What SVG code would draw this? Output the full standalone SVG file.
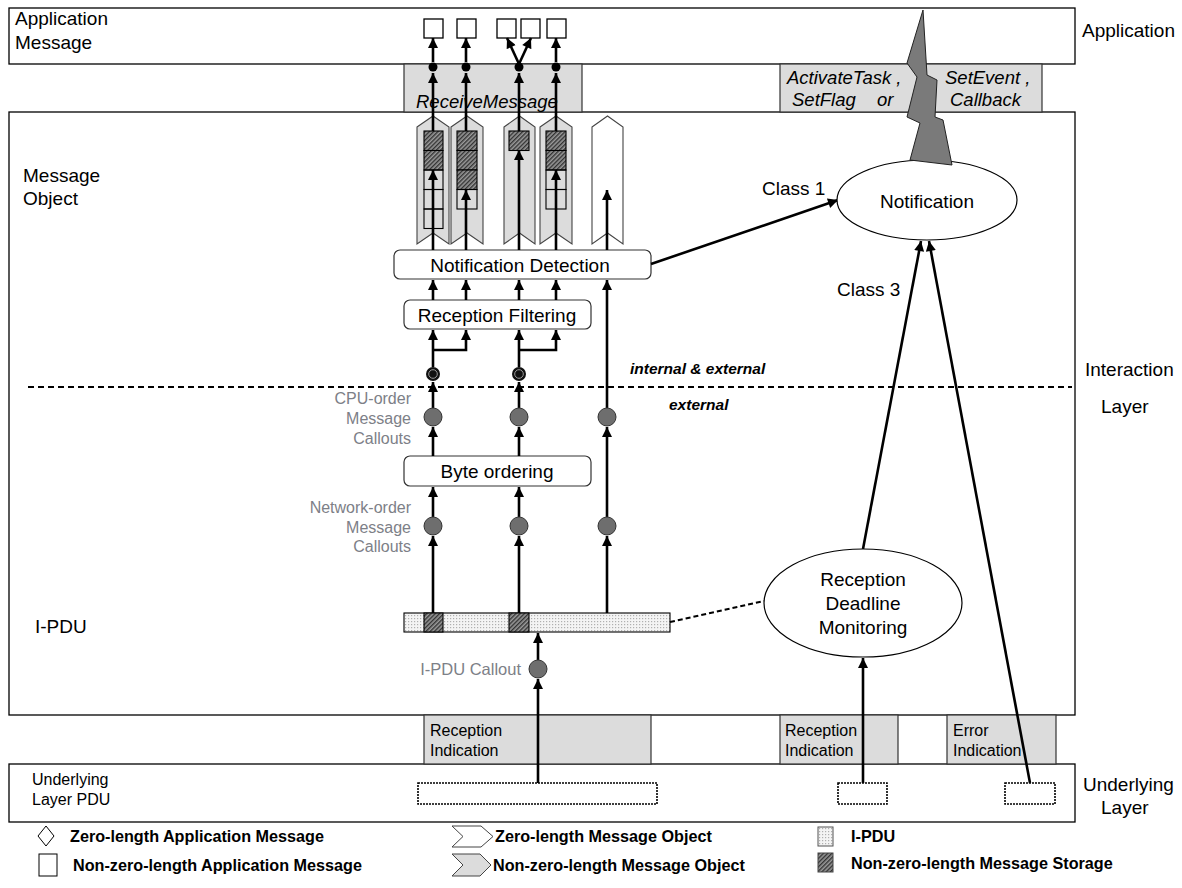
<svg xmlns="http://www.w3.org/2000/svg" width="1182" height="888" viewBox="0 0 1182 888">
<defs>
<style>
text{font-family:"Liberation Sans",Arial,sans-serif;fill:#000}
.t19{font-size:19px}
.t16{font-size:16px}
.it{font-style:italic;font-size:18.5px}
.gr{font-size:16px;fill:#7d8087}
.bi{font-size:15.5px;font-weight:bold;font-style:italic}
.lg{font-size:16.2px;font-weight:bold}
.box{fill:#fff;stroke:#000;stroke-width:1.3}
.band{fill:#dcdcdc;stroke:#333;stroke-width:1.2}
.rbox{fill:#fff;stroke:#333;stroke-width:1.2}
.chev{fill:#dcdcdc;stroke:#444;stroke-width:1.1}
.chevw{fill:#fff;stroke:#444;stroke-width:1.1}
.cell{fill:none;stroke:#000;stroke-width:1.1}
.hat{fill:url(#hatch);stroke:#000;stroke-width:1.1}
.ell{fill:#fff;stroke:#000;stroke-width:1.2}
.ar{fill:none;stroke:#000;stroke-width:2.6;marker-end:url(#ah)}
.gc{fill:#6e6e6e;stroke:#333;stroke-width:1}
.pdu{fill:#fff;stroke:#000;stroke-width:1.6;stroke-dasharray:2,1}
</style>
<marker id="ah" viewBox="0 0 10 10" refX="10" refY="5" markerWidth="11" markerHeight="10" markerUnits="userSpaceOnUse" orient="auto">
<path d="M0,0 L10,5 L0,10 z" fill="#000"/>
</marker>
<pattern id="hatch" width="3" height="3" patternUnits="userSpaceOnUse" patternTransform="rotate(45)">
<rect width="3" height="3" fill="#9a9a9a"/>
<rect width="1.4" height="3" fill="#333"/>
</pattern>
<pattern id="dots" width="3" height="3" patternUnits="userSpaceOnUse">
<rect width="3" height="3" fill="#f4f4f4"/>
<rect width="1.2" height="1.2" fill="#b0b0b0"/>
</pattern>
</defs>

<g id="layers">
<rect class="box" x="9" y="8" width="1066" height="56"/>
<rect class="box" x="9" y="112" width="1066" height="603"/>
<rect class="box" x="9" y="764" width="1066" height="58"/>
<rect class="band" x="404" y="64" width="178" height="48"/>
<rect class="band" x="780" y="64" width="262" height="48"/>
<rect class="band" x="424" y="715" width="227" height="49"/>
<rect class="band" x="780" y="715" width="118" height="49"/>
<rect class="band" x="947" y="715" width="109" height="49"/>
<text class="t19" x="15" y="25">Application</text>
<text class="t19" x="15" y="49">Message</text>
<text class="t19" x="23" y="182">Message</text>
<text class="t19" x="23" y="205">Object</text>
<text class="t19" x="35" y="633">I-PDU</text>
<text class="t16" x="32" y="785">Underlying</text>
<text class="t16" x="32" y="805">Layer PDU</text>
<text class="t19" x="1082" y="37">Application</text>
<text class="t19" x="1085" y="376">Interaction</text>
<text class="t19" x="1101" y="413">Layer</text>
<text class="t19" x="1083" y="791">Underlying</text>
<text class="t19" x="1101" y="814">Layer</text>
<text class="t16" x="430" y="736">Reception</text>
<text class="t16" x="430" y="756">Indication</text>
<text class="t16" x="785" y="736">Reception</text>
<text class="t16" x="785" y="756">Indication</text>
<text class="t16" x="953" y="736">Error</text>
<text class="t16" x="953" y="756">Indication</text>
<line x1="28" y1="387" x2="1072" y2="387" stroke="#000" stroke-width="2" stroke-dasharray="6,4"/>
<text class="bi" x="630" y="374">internal &amp; external</text>
<text class="bi" x="669" y="410">external</text>
</g>

<g id="app-messages">
<rect class="box" x="424" y="19" width="19" height="19"/>
<rect class="box" x="457" y="19" width="19" height="19"/>
<rect class="box" x="497" y="19" width="19" height="19"/>
<rect class="box" x="521" y="19" width="19" height="19"/>
<rect class="box" x="547" y="19" width="19" height="19"/>
</g>

<g id="message-objects">
<polygon class="chev" points="417,127 433,116 449,127 449,244 433,233 417,244"/>
<polygon class="chev" points="451,127 467,116 483,127 483,244 467,233 451,244"/>
<polygon class="chev" points="504,127 519.5,116 535,127 535,244 519.5,233 504,244"/>
<polygon class="chev" points="540,127 556,116 572,127 572,244 556,233 540,244"/>
<polygon class="chevw" points="592,127 607.5,116 623,127 623,244 607.5,233 592,244"/>
<rect class="hat" x="424" y="131" width="19" height="19.5"/>
<rect class="hat" x="424" y="150.5" width="19" height="19.5"/>
<rect class="cell" x="424" y="170" width="19" height="19.5"/>
<rect class="cell" x="424" y="189.5" width="19" height="19.5"/>
<rect class="cell" x="424" y="209" width="19" height="19.5"/>
<rect class="hat" x="457" y="131" width="20" height="19.5"/>
<rect class="hat" x="457" y="150.5" width="20" height="19.5"/>
<rect class="hat" x="457" y="170" width="20" height="19.5"/>
<rect class="cell" x="457" y="189.5" width="20" height="19.5"/>
<rect class="hat" x="509" y="131" width="20" height="19.5"/>
<rect class="hat" x="546" y="131" width="20" height="19.5"/>
<rect class="hat" x="546" y="150.5" width="20" height="19.5"/>
<rect class="cell" x="546" y="170" width="20" height="19.5"/>
<rect class="cell" x="546" y="189.5" width="20" height="19.5"/>
</g>

<g id="band-texts">
<text class="it" x="416" y="108">ReceiveMessage</text>
<text class="it" x="787" y="84">ActivateTask ,</text>
<text class="it" x="792" y="106">SetFlag<tspan x="877">or</tspan></text>
<text class="it" x="945" y="84">SetEvent ,</text>
<text class="it" x="950" y="106">Callback</text>
</g>

<g id="notification-detection">
<rect class="rbox" x="394" y="250" width="257" height="29" rx="6"/>
<text class="t19" x="520" y="272" text-anchor="middle">Notification Detection</text>
</g>
<g id="reception-filtering">
<rect class="rbox" x="404" y="300" width="187" height="29" rx="6"/>
<text class="t19" x="497" y="322" text-anchor="middle">Reception Filtering</text>
</g>
<g id="byte-ordering">
<rect class="rbox" x="404" y="456" width="187" height="30" rx="6"/>
<text class="t19" x="497" y="478" text-anchor="middle">Byte ordering</text>
</g>
<g id="ipdu">
<rect x="404" y="613" width="266" height="19" fill="url(#dots)" stroke="#000" stroke-width="1.1"/>
<rect class="hat" x="424" y="613" width="19" height="19"/>
<rect class="hat" x="509" y="613" width="20" height="19"/>
</g>
<g id="underlying-pdus">
<rect class="pdu" x="418" y="783" width="239" height="21"/>
<rect class="pdu" x="838" y="783" width="49" height="21"/>
<rect class="pdu" x="1005" y="783" width="50" height="21"/>
</g>
<g id="callout-labels">
<text class="gr" x="411" y="404" text-anchor="end">CPU-order</text>
<text class="gr" x="411" y="424" text-anchor="end">Message</text>
<text class="gr" x="411" y="444" text-anchor="end">Callouts</text>
<text class="gr" x="411" y="513" text-anchor="end">Network-order</text>
<text class="gr" x="411" y="533" text-anchor="end">Message</text>
<text class="gr" x="411" y="552" text-anchor="end">Callouts</text>
<text class="gr" x="521" y="675" text-anchor="end" style="font-size:16.5px">I-PDU Callout</text>
</g>

<g id="connectors">
<path class="ar" d="M433,613 V536"/>
<path class="ar" d="M433,517 V487"/>
<path class="ar" d="M433,456 V427"/>
<path class="ar" d="M433,408 V382"/>
<path class="ar" d="M433,367 V330"/>
<path class="ar" d="M433,350 H466 V330"/>
<path class="ar" d="M433,300 V280"/>
<path class="ar" d="M466,300 V280"/>
<path class="ar" d="M433,250 V170"/>
<path class="ar" d="M466,250 V190"/>
<path class="ar" d="M433,131 V73"/>
<path class="ar" d="M466,131 V73"/>
<path class="ar" d="M433,62 V38"/>
<path class="ar" d="M466,62 V38"/>
<path class="ar" d="M519,613 V536"/>
<path class="ar" d="M519,517 V487"/>
<path class="ar" d="M519,456 V427"/>
<path class="ar" d="M519,408 V382"/>
<path class="ar" d="M519,367 V330"/>
<path class="ar" d="M519,350 H556 V330"/>
<path class="ar" d="M519,300 V280"/>
<path class="ar" d="M556,300 V280"/>
<path class="ar" d="M519,250 V150"/>
<path class="ar" d="M556,250 V170"/>
<path class="ar" d="M519,131 V73"/>
<path class="ar" d="M556,131 V73"/>
<path class="ar" d="M519,64 L507,38"/>
<path class="ar" d="M519,64 L531,38"/>
<path class="ar" d="M556,62 V38"/>
<path class="ar" d="M607,613 V536"/>
<path class="ar" d="M607,517 V427"/>
<path class="ar" d="M607,408 V280"/>
<path class="ar" d="M607,250 V190"/>
<path class="ar" d="M538,783 V679"/>
<path class="ar" d="M538,660 V633"/>
<path class="ar" d="M863,783 V658"/>
<path class="ar" d="M863,549 L921,241"/>
<path class="ar" d="M1030,783 L929,241"/>
<path class="ar" d="M651,264 L838,200"/>
<path d="M670,622 L764,601" fill="none" stroke="#000" stroke-width="2" stroke-dasharray="5,3"/>
</g>

<g id="callout-points">
<circle cx="433" cy="67" r="4.5" fill="#000"/>
<circle cx="466" cy="67" r="4.5" fill="#000"/>
<circle cx="519" cy="67" r="4.5" fill="#000"/>
<circle cx="556" cy="67" r="4.5" fill="#000"/>
<circle cx="433" cy="374" r="7" fill="#111"/>
<circle cx="433" cy="374" r="4.3" fill="none" stroke="#999" stroke-width="1"/>
<circle cx="519" cy="374" r="7" fill="#111"/>
<circle cx="519" cy="374" r="4.3" fill="none" stroke="#999" stroke-width="1"/>
<circle class="gc" cx="433" cy="417" r="9"/>
<circle class="gc" cx="519" cy="417" r="9"/>
<circle class="gc" cx="607" cy="417" r="9"/>
<circle class="gc" cx="433" cy="526" r="9"/>
<circle class="gc" cx="519" cy="526" r="9"/>
<circle class="gc" cx="607" cy="526" r="9"/>
<circle class="gc" cx="538" cy="669" r="9"/>
</g>

<g id="notification">
<ellipse class="ell" cx="927" cy="200" rx="90" ry="40"/>
<text class="t19" x="927" y="208" text-anchor="middle">Notification</text>
<text class="t19" x="762" y="195">Class 1</text>
<text class="t19" x="837" y="296">Class 3</text>
</g>
<g id="lightning">
<polygon points="923,10 907,63 917,77 907,117 920,123 910,160 952,165 943,120 935,117 937,80 927,75" fill="#7a7a7a" stroke="#222" stroke-width="1"/>
</g>
<g id="deadline-monitoring">
<ellipse class="ell" cx="863" cy="603" rx="99" ry="54"/>
<text class="t19" x="863" y="586" text-anchor="middle">Reception</text>
<text class="t19" x="863" y="610" text-anchor="middle">Deadline</text>
<text class="t19" x="863" y="634" text-anchor="middle">Monitoring</text>
</g>

<g id="legend">
<polygon points="46,826 54,836 46,846 38,836" fill="#fff" stroke="#000" stroke-width="1"/>
<text class="lg" x="70" y="842">Zero-length Application Message</text>
<rect x="39" y="854" width="18" height="22" fill="#fff" stroke="#000" stroke-width="1"/>
<text class="lg" x="73" y="871">Non-zero-length Application Message</text>
<polygon points="452,826 481,826 493,836.5 481,847 452,847 463,836.5" fill="#fff" stroke="#444" stroke-width="1"/>
<text class="lg" x="495" y="842">Zero-length Message Object</text>
<polygon points="452,854 480,854 491,865 480,876 452,876 463,865" fill="#dcdcdc" stroke="#444" stroke-width="1"/>
<text class="lg" x="493" y="871">Non-zero-length Message Object</text>
<rect x="818" y="827" width="15" height="19" fill="url(#dots)" stroke="#555" stroke-width="1"/>
<text class="lg" x="851" y="842">I-PDU</text>
<rect x="818" y="853" width="15" height="19" fill="url(#hatch)" stroke="#444" stroke-width="1"/>
<text class="lg" x="851" y="869">Non-zero-length Message Storage</text>
</g>
</svg>
